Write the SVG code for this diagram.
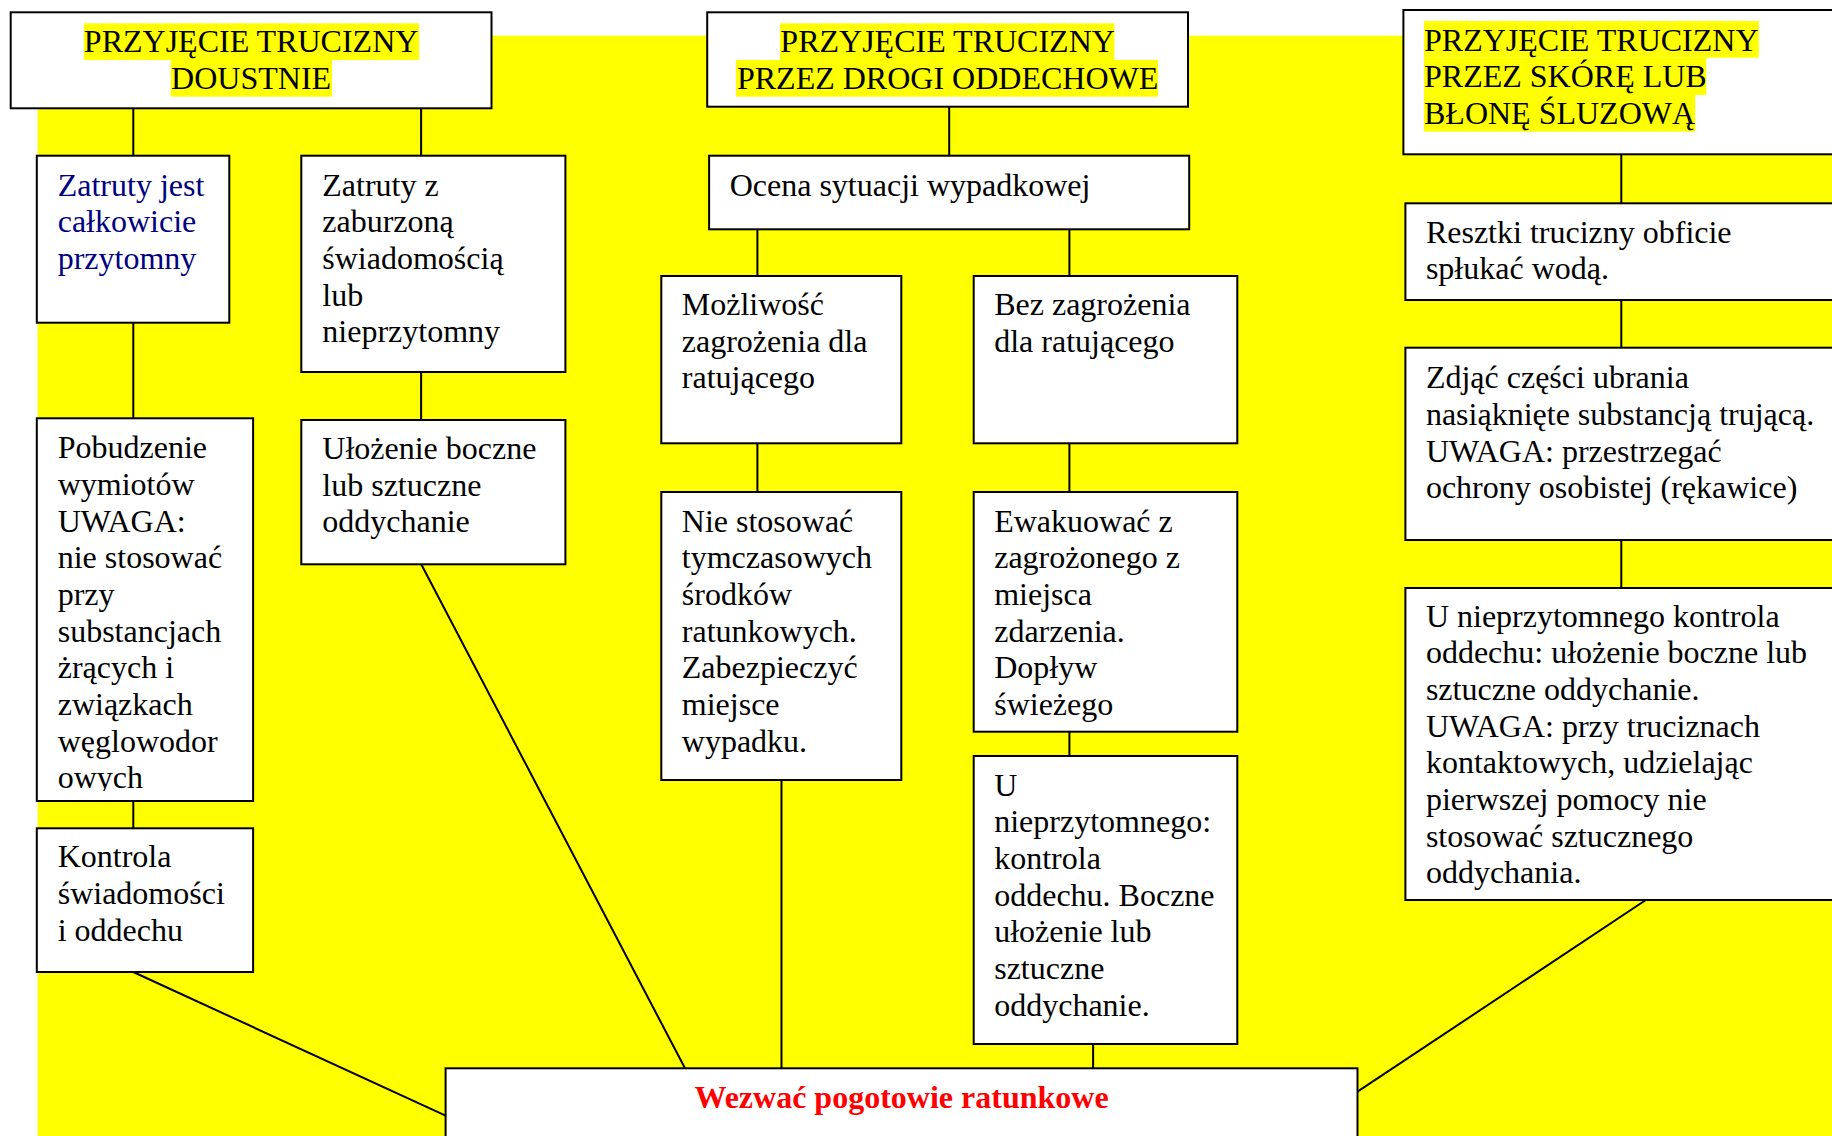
<svg xmlns="http://www.w3.org/2000/svg" width="1832" height="1136" viewBox="0 0 1832 1136">
<style>
.box{fill:#fff;stroke:#000;stroke-width:2}
.hl{fill:#ffff00}
.t{font-family:"Liberation Serif","Times New Roman",serif;font-size:32px;fill:#000}
.blue{fill:#000080}
.red{fill:#ff0000;font-weight:bold}
.c{stroke:#000;stroke-width:2;fill:none}
</style>
<defs>
<clipPath id="clipA2"><rect x="36" y="418" width="218" height="373"/></clipPath>
</defs>
<rect x="0" y="0" width="1832" height="1136" fill="#fff"/>
<rect x="37.6" y="35.7" width="1794.4" height="1100.3" fill="#ffff00"/>
<g id="connectors">
<line class="c" x1="133.3" y1="108" x2="133.3" y2="156"/>
<line class="c" x1="421.1" y1="108" x2="421.1" y2="156"/>
<line class="c" x1="133.3" y1="322" x2="133.3" y2="419"/>
<line class="c" x1="421.1" y1="372" x2="421.1" y2="420"/>
<line class="c" x1="133.3" y1="801" x2="133.3" y2="829"/>
<line class="c" x1="133.3" y1="972" x2="445.6" y2="1115.7"/>
<line class="c" x1="421.1" y1="564" x2="685" y2="1068.3"/>
<line class="c" x1="949.2" y1="106.7" x2="949.2" y2="156"/>
<line class="c" x1="757.4" y1="229" x2="757.4" y2="276"/>
<line class="c" x1="1069.4" y1="229" x2="1069.4" y2="276"/>
<line class="c" x1="757.4" y1="443" x2="757.4" y2="492"/>
<line class="c" x1="1069.4" y1="443" x2="1069.4" y2="492"/>
<line class="c" x1="1069.4" y1="731" x2="1069.4" y2="756"/>
<line class="c" x1="781.5" y1="780" x2="781.5" y2="1068.3"/>
<line class="c" x1="1093.1" y1="1044" x2="1093.1" y2="1068.3"/>
<line class="c" x1="1621.3" y1="154" x2="1621.3" y2="204"/>
<line class="c" x1="1621.3" y1="300" x2="1621.3" y2="348"/>
<line class="c" x1="1621.3" y1="540" x2="1621.3" y2="588"/>
<line class="c" x1="1645.8" y1="900" x2="1357.5" y2="1091.7"/>
</g>
<g id="n-doustnie">
<rect class="box" x="10.7" y="12.3" width="480.8" height="96"/>
<rect class="hl" x="83.8" y="23.3" width="335.2" height="36.7"/>
<rect class="hl" x="170.8" y="60" width="161.2" height="36.7"/>
<text class="t" text-anchor="middle"><tspan x="251.1" y="52.3">PRZYJĘCIE TRUCIZNY</tspan><tspan x="251.1" y="89">DOUSTNIE</tspan></text>
</g>
<g id="n-przytomny">
<rect class="box" x="36.8" y="155.7" width="192.5" height="167"/>
<text class="t blue"><tspan x="57.7" y="195.7">Zatruty jest</tspan><tspan x="57.7" y="232.3">całkowicie</tspan><tspan x="57.7" y="269">przytomny</tspan></text>
</g>
<g id="n-zaburzona">
<rect class="box" x="301.3" y="155.7" width="264.1" height="216.3"/>
<text class="t"><tspan x="322.3" y="195.7">Zatruty z</tspan><tspan x="322.3" y="232.3">zaburzoną</tspan><tspan x="322.3" y="269">świadomością</tspan><tspan x="322.3" y="305.7">lub</tspan><tspan x="322.3" y="342.3">nieprzytomny</tspan></text>
</g>
<g id="n-pobudzenie">
<rect class="box" x="36.8" y="418.3" width="216.3" height="382.7"/>
<text class="t" clip-path="url(#clipA2)"><tspan x="57.7" y="458.3">Pobudzenie</tspan><tspan x="57.7" y="495">wymiotów</tspan><tspan x="57.7" y="531.7">UWAGA:</tspan><tspan x="57.7" y="568.3">nie stosować</tspan><tspan x="57.7" y="605">przy</tspan><tspan x="57.7" y="641.7">substancjach</tspan><tspan x="57.7" y="678.3">żrących i</tspan><tspan x="57.7" y="715">związkach</tspan><tspan x="57.7" y="751.7">węglowodor</tspan><tspan x="57.7" y="788.3">owych</tspan></text>
</g>
<g id="n-ulozenie">
<rect class="box" x="301.3" y="420" width="264.1" height="144.3"/>
<text class="t"><tspan x="322.3" y="459">Ułożenie boczne</tspan><tspan x="322.3" y="495.7">lub sztuczne</tspan><tspan x="322.3" y="532.3">oddychanie</tspan></text>
</g>
<g id="n-kontrola">
<rect class="box" x="36.8" y="828.3" width="216.3" height="143.7"/>
<text class="t"><tspan x="57.7" y="867.3">Kontrola</tspan><tspan x="57.7" y="904">świadomości</tspan><tspan x="57.7" y="940.7">i oddechu</tspan></text>
</g>
<g id="n-oddechowe">
<rect class="box" x="707.2" y="12.3" width="480.8" height="94.4"/>
<rect class="hl" x="780" y="23.3" width="334.4" height="36.7"/>
<rect class="hl" x="736" y="60" width="422" height="36.7"/>
<text class="t" text-anchor="middle"><tspan x="947.6" y="52.3">PRZYJĘCIE TRUCIZNY</tspan><tspan x="947.6" y="89">PRZEZ DROGI ODDECHOWE</tspan></text>
</g>
<g id="n-ocena">
<rect class="box" x="709.1" y="155.7" width="480.1" height="73.6"/>
<text class="t"><tspan x="729.7" y="195.7">Ocena sytuacji wypadkowej</tspan></text>
</g>
<g id="n-mozliwosc">
<rect class="box" x="661.3" y="276" width="240" height="167.3"/>
<text class="t"><tspan x="681.8" y="315">Możliwość</tspan><tspan x="681.8" y="351.7">zagrożenia dla</tspan><tspan x="681.8" y="388.3">ratującego</tspan></text>
</g>
<g id="n-bez">
<rect class="box" x="973.7" y="276" width="263.6" height="167.3"/>
<text class="t"><tspan x="994.2" y="315">Bez zagrożenia</tspan><tspan x="994.2" y="351.7">dla ratującego</tspan></text>
</g>
<g id="n-nie-stosowac">
<rect class="box" x="661.3" y="492" width="240" height="288"/>
<text class="t"><tspan x="681.8" y="531.7">Nie stosować</tspan><tspan x="681.8" y="568.3">tymczasowych</tspan><tspan x="681.8" y="605">środków</tspan><tspan x="681.8" y="641.7">ratunkowych.</tspan><tspan x="681.8" y="678.3">Zabezpieczyć</tspan><tspan x="681.8" y="715">miejsce</tspan><tspan x="681.8" y="751.7">wypadku.</tspan></text>
</g>
<g id="n-ewakuowac">
<rect class="box" x="973.7" y="492" width="263.6" height="239.7"/>
<text class="t"><tspan x="994.2" y="531.7">Ewakuować z</tspan><tspan x="994.2" y="568.3">zagrożonego z</tspan><tspan x="994.2" y="605">miejsca</tspan><tspan x="994.2" y="641.7">zdarzenia.</tspan><tspan x="994.2" y="678.3">Dopływ</tspan><tspan x="994.2" y="715">świeżego</tspan></text>
</g>
<g id="n-u-nieprzytomnego">
<rect class="box" x="973.7" y="756" width="263.6" height="288"/>
<text class="t"><tspan x="994.2" y="795.7">U</tspan><tspan x="994.2" y="832.3">nieprzytomnego:</tspan><tspan x="994.2" y="869">kontrola</tspan><tspan x="994.2" y="905.7">oddechu. Boczne</tspan><tspan x="994.2" y="942.3">ułożenie lub</tspan><tspan x="994.2" y="979">sztuczne</tspan><tspan x="994.2" y="1015.7">oddychanie.</tspan></text>
</g>
<g id="n-skora">
<rect class="box" x="1403.4" y="10" width="440" height="144.3"/>
<rect class="hl" x="1424" y="21" width="334.8" height="36.7"/>
<rect class="hl" x="1424" y="57.7" width="282.3" height="37.3"/>
<rect class="hl" x="1424" y="95" width="271.2" height="36.7"/>
<text class="t"><tspan x="1424" y="50.7">PRZYJĘCIE TRUCIZNY</tspan><tspan x="1424" y="87.3">PRZEZ SKÓRĘ LUB</tspan><tspan x="1424" y="124">BŁONĘ ŚLUZOWĄ</tspan></text>
</g>
<g id="n-resztki">
<rect class="box" x="1405.4" y="203.3" width="440" height="96.7"/>
<text class="t"><tspan x="1425.9" y="242.7">Resztki trucizny obficie</tspan><tspan x="1425.9" y="279.3">spłukać wodą.</tspan></text>
</g>
<g id="n-zdjac">
<rect class="box" x="1405.4" y="347.7" width="440" height="192.3"/>
<text class="t"><tspan x="1425.9" y="388.3">Zdjąć części ubrania</tspan><tspan x="1425.9" y="425">nasiąknięte substancją trującą.</tspan><tspan x="1425.9" y="461.7">UWAGA: przestrzegać</tspan><tspan x="1425.9" y="498.3">ochrony osobistej (rękawice)</tspan></text>
</g>
<g id="n-kontrola-oddechu">
<rect class="box" x="1405.4" y="588" width="440" height="312"/>
<text class="t"><tspan x="1425.9" y="626.7">U nieprzytomnego kontrola</tspan><tspan x="1425.9" y="663.3">oddechu: ułożenie boczne lub</tspan><tspan x="1425.9" y="700">sztuczne oddychanie.</tspan><tspan x="1425.9" y="736.7">UWAGA: przy truciznach</tspan><tspan x="1425.9" y="773.3">kontaktowych, udzielając</tspan><tspan x="1425.9" y="810">pierwszej pomocy nie</tspan><tspan x="1425.9" y="846.7">stosować sztucznego</tspan><tspan x="1425.9" y="883.3">oddychania.</tspan></text>
</g>
<g id="n-pogotowie">
<rect class="box" x="445.6" y="1068.3" width="911.9" height="90"/>
<text class="t red" text-anchor="middle"><tspan x="901.5" y="1108.3">Wezwać pogotowie ratunkowe</tspan></text>
</g>
</svg>
